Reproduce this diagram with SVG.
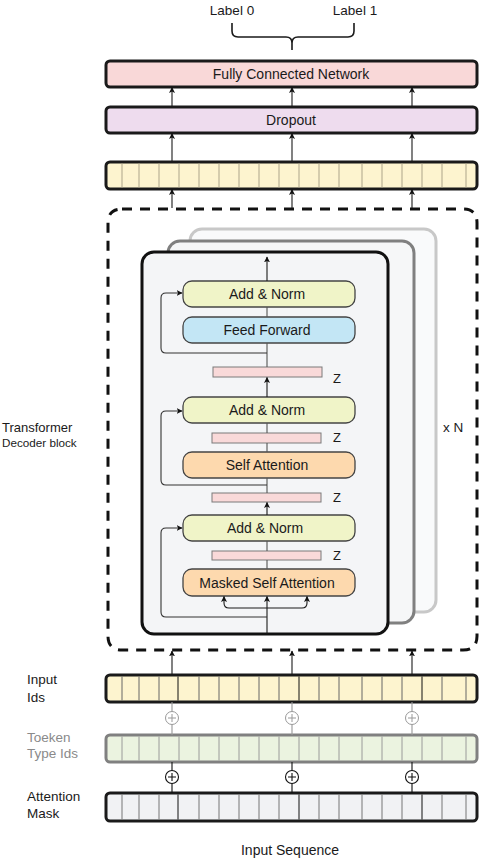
<svg xmlns="http://www.w3.org/2000/svg" width="480" height="861" viewBox="0 0 480 861">
<style>
text{font-family:"Liberation Sans",Arial,sans-serif;fill:#1a1a1a}
.lbl{font-size:14px;text-anchor:middle}
.side{font-size:13.5px}
.z{font-size:13px}
.box{stroke:#1a1a1a;stroke-width:3}
.inner{stroke:#444;stroke-width:1.3}
.zbar{fill:#f9d9d9;stroke:#7a7a7a;stroke-width:1}
.arr{fill:none;stroke:#1a1a1a;stroke-width:1.1;marker-end:url(#ah)}
.ln{fill:none;stroke:#555;stroke-width:1.1}
.res{fill:none;stroke:#333;stroke-width:1.1}
</style>
<defs>
<marker id="ah" viewBox="0 0 10 10" refX="9" refY="5" markerWidth="6" markerHeight="7" markerUnits="userSpaceOnUse" orient="auto">
<path d="M0,0 L10,5 L0,10 L2.5,5 Z" fill="#111"/>
</marker>
</defs>

<g id="labels-top">
<text class="lbl" x="232" y="15" style="font-size:13.5px">Label 0</text>
<text class="lbl" x="355" y="15" style="font-size:13.5px">Label 1</text>
<path d="M232,23 V31 Q232,37 238,37 H286 Q292,37 292,43 V50 M292,43 Q292,37 298,37 H348 Q354,37 354,31 V23" fill="none" stroke="#1a1a1a" stroke-width="1.6"/>
</g>

<g id="fcn">
<rect class="box" x="106" y="61" width="371" height="26" rx="4" fill="#f9d8d8"/>
<text class="lbl" x="291" y="79">Fully Connected Network</text>
</g>
<g id="dropout">
<rect class="box" x="106" y="107" width="371" height="26" rx="4" fill="#eedcee"/>
<text class="lbl" x="291" y="125">Dropout</text>
</g>
<g id="output-bar">
<rect class="box" x="106" y="162" width="371" height="27" rx="4" fill="#fdf4cf"/>
<g stroke="#ada58a" stroke-width="1">
<path d="M122,163.5V187.5M139,163.5V187.5M159,163.5V187.5M179,163.5V187.5M199,163.5V187.5M219,163.5V187.5M239,163.5V187.5M259,163.5V187.5M279,163.5V187.5M299,163.5V187.5M319,163.5V187.5M339,163.5V187.5M362,163.5V187.5M382,163.5V187.5M402,163.5V187.5M422,163.5V187.5M442,163.5V187.5M466,163.5V187.5"/>
</g>
</g>

<g id="decoder-dashed">
<path d="M122,209 H463 Q477,209 477,223 V636 Q477,650 463,650 H122 Q108,650 108,636 V223 Q108,209 122,209 Z" fill="none" stroke="#111" stroke-width="3" stroke-dasharray="10,8"/>
</g>

<g id="stack-back">
<rect x="190" y="229" width="246" height="383" rx="12" fill="#f9fafb" stroke="#c8c8c8" stroke-width="3"/>
</g>
<g id="stack-mid">
<rect x="168" y="241" width="246" height="382" rx="12" fill="#f6f7f8" stroke="#808080" stroke-width="3"/>
</g>
<g id="stack-front">
<rect x="142" y="252" width="246" height="382" rx="12" fill="#f4f5f7" stroke="#111" stroke-width="3"/>
</g>

<g id="add-norm-1">
<rect class="inner" x="183" y="281" width="172" height="26" rx="9" fill="#f0f4c8"/>
<text class="lbl" x="267" y="299">Add &amp; Norm</text>
</g>
<g id="feed-forward">
<rect class="inner" x="183" y="317" width="172" height="26" rx="9" fill="#c3e6f5"/>
<text class="lbl" x="267" y="335">Feed Forward</text>
</g>
<g id="z1">
<rect class="zbar" x="213" y="367" width="109" height="10"/>
<text class="z" x="333" y="383">Z</text>
</g>
<g id="add-norm-2">
<rect class="inner" x="183" y="397" width="172" height="26" rx="9" fill="#f0f4c8"/>
<text class="lbl" x="267" y="415">Add &amp; Norm</text>
</g>
<g id="z2">
<rect class="zbar" x="212" y="433" width="109" height="10"/>
<text class="z" x="333" y="442">Z</text>
</g>
<g id="self-attention">
<rect class="inner" x="183" y="452" width="172" height="26" rx="9" fill="#fdd9ae"/>
<text class="lbl" x="267" y="470">Self Attention</text>
</g>
<g id="z3">
<rect class="zbar" x="212" y="493" width="109" height="9"/>
<text class="z" x="333" y="502">Z</text>
</g>
<g id="add-norm-3">
<rect class="inner" x="183" y="515" width="172" height="26" rx="9" fill="#f0f4c8"/>
<text class="lbl" x="265" y="533">Add &amp; Norm</text>
</g>
<g id="z4">
<rect class="zbar" x="212" y="551" width="109" height="9"/>
<text class="z" x="333" y="560">Z</text>
</g>
<g id="masked-self-attention">
<rect class="inner" x="183" y="569" width="172" height="27" rx="9" fill="#fdd9ae"/>
<text class="lbl" x="267" y="588">Masked Self Attention</text>
</g>

<g id="xn"><text class="side" x="443" y="432">x N</text></g>
<g id="decoder-label">
<text x="2" y="432" style="font-size:13px">Transformer</text>
<text x="2" y="447" style="font-size:11.7px">Decoder block</text>
</g>

<g id="input-ids">
<rect class="box" x="106" y="675" width="371" height="27" rx="4" fill="#fdf4cf"/>
<g stroke="#666" stroke-width="1">
<path d="M122,676.5V700.5M139,676.5V700.5M159,676.5V700.5M199,676.5V700.5M219,676.5V700.5M239,676.5V700.5M259,676.5V700.5M279,676.5V700.5M319,676.5V700.5M339,676.5V700.5M362,676.5V700.5M382,676.5V700.5M402,676.5V700.5M442,676.5V700.5M466,676.5V700.5"/>
</g>
<path d="M178,676.5V700.5M299,676.5V700.5M422,676.5V700.5" stroke="#111" stroke-width="1"/>
<text class="side" x="27" y="684">Input</text>
<text class="side" x="27" y="702">Ids</text>
</g>
<g id="token-type-ids">
<rect x="106" y="735" width="371" height="27" rx="4" fill="#ebf3e0" stroke="#808080" stroke-width="3"/>
<g stroke="#9a9a9a" stroke-width="1">
<path d="M122,736.5V760.5M139,736.5V760.5M159,736.5V760.5M179,736.5V760.5M199,736.5V760.5M219,736.5V760.5M239,736.5V760.5M259,736.5V760.5M279,736.5V760.5M299,736.5V760.5M319,736.5V760.5M339,736.5V760.5M362,736.5V760.5M382,736.5V760.5M402,736.5V760.5M422,736.5V760.5M442,736.5V760.5M466,736.5V760.5"/>
</g>
<text class="side" x="27" y="742" style="fill:#8a8a8a">Toeken</text>
<text class="side" x="27" y="758" style="fill:#8a8a8a">Type Ids</text>
</g>
<g id="attention-mask">
<rect class="box" x="106" y="793" width="371" height="28" rx="4" fill="#f1f2f4"/>
<g stroke="#777" stroke-width="1">
<path d="M122,794.5V819.5M139,794.5V819.5M159,794.5V819.5M199,794.5V819.5M219,794.5V819.5M239,794.5V819.5M259,794.5V819.5M279,794.5V819.5M319,794.5V819.5M339,794.5V819.5M362,794.5V819.5M382,794.5V819.5M402,794.5V819.5M442,794.5V819.5M466,794.5V819.5"/>
</g>
<path d="M178,794.5V819.5M299,794.5V819.5M422,794.5V819.5" stroke="#111" stroke-width="1"/>
<text class="side" x="27" y="801">Attention</text>
<text class="side" x="27" y="818">Mask</text>
</g>
<g id="input-sequence">
<text class="lbl" x="290" y="855">Input Sequence</text>
</g>

<g id="plus-gray" fill="#fff" stroke="#999" stroke-width="1">
<circle cx="172" cy="718" r="6.5"/><circle cx="292" cy="718" r="6.5"/><circle cx="412" cy="718" r="6.5"/>
<path d="M168,718H176M172,714V722M288,718H296M292,714V722M408,718H416M412,714V722"/>
</g>
<g id="plus-black" fill="#fff" stroke="#111" stroke-width="1.1">
<circle cx="172" cy="777" r="6.5"/><circle cx="292" cy="777" r="6.5"/><circle cx="412" cy="777" r="6.5"/>
<path d="M168,777H176M172,773V781M288,777H296M292,773V781M408,777H416M412,773V781"/>
</g>

<g id="connectors">
<path class="arr" d="M172,107V87.5"/><path class="arr" d="M292,107V87.5"/><path class="arr" d="M412,107V87.5"/>
<path class="arr" d="M172,162V133.5"/><path class="arr" d="M292,162V133.5"/><path class="arr" d="M412,162V133.5"/>
<path class="arr" d="M172,208V189.5"/><path class="arr" d="M292,208V189.5"/><path class="arr" d="M412,208V189.5"/>
<path class="arr" d="M172,675V651"/><path class="arr" d="M292,675V651"/><path class="arr" d="M412,675V651"/>
<path d="M172,702V711.5M172,724.5V735M292,702V711.5M292,724.5V735M412,702V711.5M412,724.5V735" stroke="#999" stroke-width="1.1" fill="none"/>
<path d="M172,762V770.5M172,783.5V793M292,762V770.5M292,783.5V793M412,762V770.5M412,783.5V793" stroke="#111" stroke-width="1.1" fill="none"/>

<path class="arr" d="M267,281V257"/>
<path class="ln" d="M267,307V317M267,343V367"/>
<path class="arr" d="M267,397V377.5"/>
<path class="res" d="M267,353H166Q161,353 161,348V298Q161,293 166,293H182" marker-end="url(#ah)"/>
<path class="ln" d="M267,423V433M267,443V452M267,478V493"/>
<path class="res" d="M267,485H166Q161,485 161,480V416Q161,411 166,411H182" marker-end="url(#ah)"/>
<path class="arr" d="M267,515V502.5"/>
<path class="ln" d="M267,541V551M267,560V569"/>
<path class="arr" d="M267,634V596.5"/>
<path class="res" d="M267,617H166Q161,617 161,612V533Q161,528 166,528H182" marker-end="url(#ah)"/>
<path class="arr" d="M267,608H229Q224,608 224,603V596.5"/>
<path class="arr" d="M267,608H302Q307,608 307,603V596.5"/>
</g>
</svg>
